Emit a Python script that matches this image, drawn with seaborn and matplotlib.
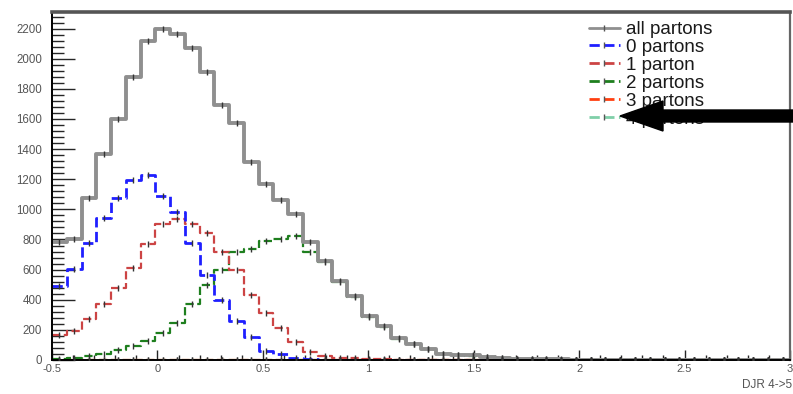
import numpy as np
import pandas as pd
import matplotlib
matplotlib.use('Agg')
import matplotlib.pyplot as plt
import matplotlib.patches as mpatches
from matplotlib.lines import Line2D
from matplotlib.ticker import MultipleLocator
import seaborn as sns


# -- -- -- -- --    values (50 bins, -0.5 .. 3) -- -- -- -- --

n_bins = 50
x_range = (-0.5, 3.0)

all_partons = [780, 800, 1075, 1370, 1600, 1880, 2115, 2195, 2165, 2070,
               1910, 1695, 1570, 1316, 1170, 1060, 970, 782, 660, 527,
               427, 293, 227, 148, 107, 73, 40, 35, 30, 20,
               12, 8, 6, 5, 4, 3, 3, 2, 2, 2,
               1, 1, 1, 1, 1, 1, 0, 0, 0, 0]
zero_partons = [490, 605, 775, 945, 1075, 1195, 1228, 1090, 980, 775,
                565, 395, 260, 150, 60, 40, 12, 5, 2, 0,
                0, 0, 0, 0, 0, 0, 0, 0, 0, 0,
                0, 0, 0, 0, 0, 0, 0, 0, 0, 0,
                0, 0, 0, 0, 0, 0, 0, 0, 0, 0]
one_parton = [165, 195, 275, 375, 480, 610, 770, 905, 935, 900,
              845, 720, 600, 430, 310, 215, 118, 50, 25, 15,
              10, 6, 4, 3, 2, 2, 1, 1, 1, 0,
              0, 0, 0, 0, 0, 0, 0, 0, 0, 0,
              0, 0, 0, 0, 0, 0, 0, 0, 0, 0]
two_partons = [8, 13, 25, 40, 65, 95, 125, 178, 245, 373,
               500, 595, 715, 740, 790, 805, 820, 720, 650, 517,
               420, 288, 222, 140, 103, 70, 38, 33, 28, 18,
               11, 7, 5, 4, 3, 3, 2, 2, 2, 1,
               1, 1, 1, 1, 1, 1, 0, 0, 0, 0]
three_partons = [0] * 50
four_partons = [0] * 50

series_names = ['all partons', '0 partons', '1 parton', '2 partons', '3 partons', '4 partons']
series_values = [all_partons, zero_partons, one_parton, two_partons, three_partons, four_partons]
series_colors = ['#8f8f8f', '#1f1fff', '#cc4444', '#1e7f1e', '#ff4010', '#7fcfa8']
series_styles = ['-', '--', '--', '--', '--', '--']
series_widths = [2.8, 2.0, 1.6, 1.6, 1.6, 1.6]

bin_edges = np.linspace(x_range[0], x_range[1], n_bins + 1)
centers = 0.5 * (bin_edges[:-1] + bin_edges[1:])
df = pd.DataFrame({'x': np.tile(centers, len(series_names)),
                   'count': np.concatenate(series_values),
                   'series': np.repeat(series_names, len(centers))})


# -- -- -- -- --    plotting -- -- -- -- --

sns.set_style('ticks')
plt.rcParams['font.family'] = ['Liberation Sans', 'DejaVu Sans']

fig = plt.figure(figsize=(7.93, 3.94), dpi=100)
ax = fig.add_axes([52 / 793, 1 - 360 / 394, 738 / 793, 348 / 394])

# draw the background series first so the gray total sits on top like in ROOT
order = [5, 4, 3, 2, 1, 0]
for i in order:
    sub = df[df['series'] == series_names[i]]
    sns.histplot(data=sub, x='x', weights='count', bins=n_bins, binrange=x_range,
                 element='step', fill=False, color=series_colors[i],
                 linestyle=series_styles[i], linewidth=series_widths[i], ax=ax)
    # small error-bar crosses at the bin centres
    ax.plot(centers, series_values[i], linestyle='none', marker='|',
            markersize=5, mew=1.0, color='#333333', zorder=3)

ax.set_xlim(-0.5, 3.0)
ax.set_ylim(0, 2310)
ax.set_xlabel('')
ax.set_ylabel('')

ax.xaxis.set_major_locator(MultipleLocator(0.5))
ax.xaxis.set_minor_locator(MultipleLocator(0.1))
ax.yaxis.set_major_locator(MultipleLocator(200))
ax.yaxis.set_minor_locator(MultipleLocator(40))
ax.set_xticks(np.arange(-0.5, 3.01, 0.5))
ax.set_xticklabels(['-0.5', '0', '0.5', '1', '1.5', '2', '2.5', '3'])

ax.tick_params(axis='y', which='major', direction='in', length=16.5, width=1.0,
               labelsize=8.3, labelcolor='#555555', pad=7)
ax.tick_params(axis='y', which='minor', direction='in', length=8.5, width=1.0)
ax.tick_params(axis='x', which='major', direction='in', length=7, width=1.0,
               labelsize=8, labelcolor='#555555', pad=3)
ax.tick_params(axis='x', which='minor', direction='in', length=3.5, width=1.0)

for side in ['left', 'bottom']:
    ax.spines[side].set_color('black')
    ax.spines[side].set_linewidth(1.4)
ax.spines['top'].set_color('#555555')
ax.spines['top'].set_linewidth(2.6)
ax.spines['right'].set_color('#666666')
ax.spines['right'].set_linewidth(1.6)

fig.text(792 / 793, 1 - 385 / 394, 'DJR 4->5', ha='right', va='center',
         fontsize=8.5, color='#555555')

handles = [Line2D([], [], color=c, linestyle=s, linewidth=2.0, marker='|',
                  markersize=5, mec='#555555')
           for c, s in zip(series_colors, series_styles)]
ax.legend(handles, series_names, loc='upper left',
          bbox_to_anchor=(589 / 793, 1 - 21 / 394), bbox_transform=fig.transFigure,
          frameon=False, fontsize=13.5, labelspacing=0.04, handlelength=1.65,
          handletextpad=0.3, borderpad=0, borderaxespad=0,
          labelcolor='#1a1a1a')

# the black arrow pointing at the legend
arrow = mpatches.FancyArrow(1.0, 1 - 116 / 394, -(793 - 620) / 793, 0,
                            width=12 / 394, head_width=30 / 394, head_length=43 / 793,
                            length_includes_head=True, color='black',
                            transform=fig.transFigure, figure=fig)
fig.patches.append(arrow)

fig.savefig('out.png', dpi=100)
